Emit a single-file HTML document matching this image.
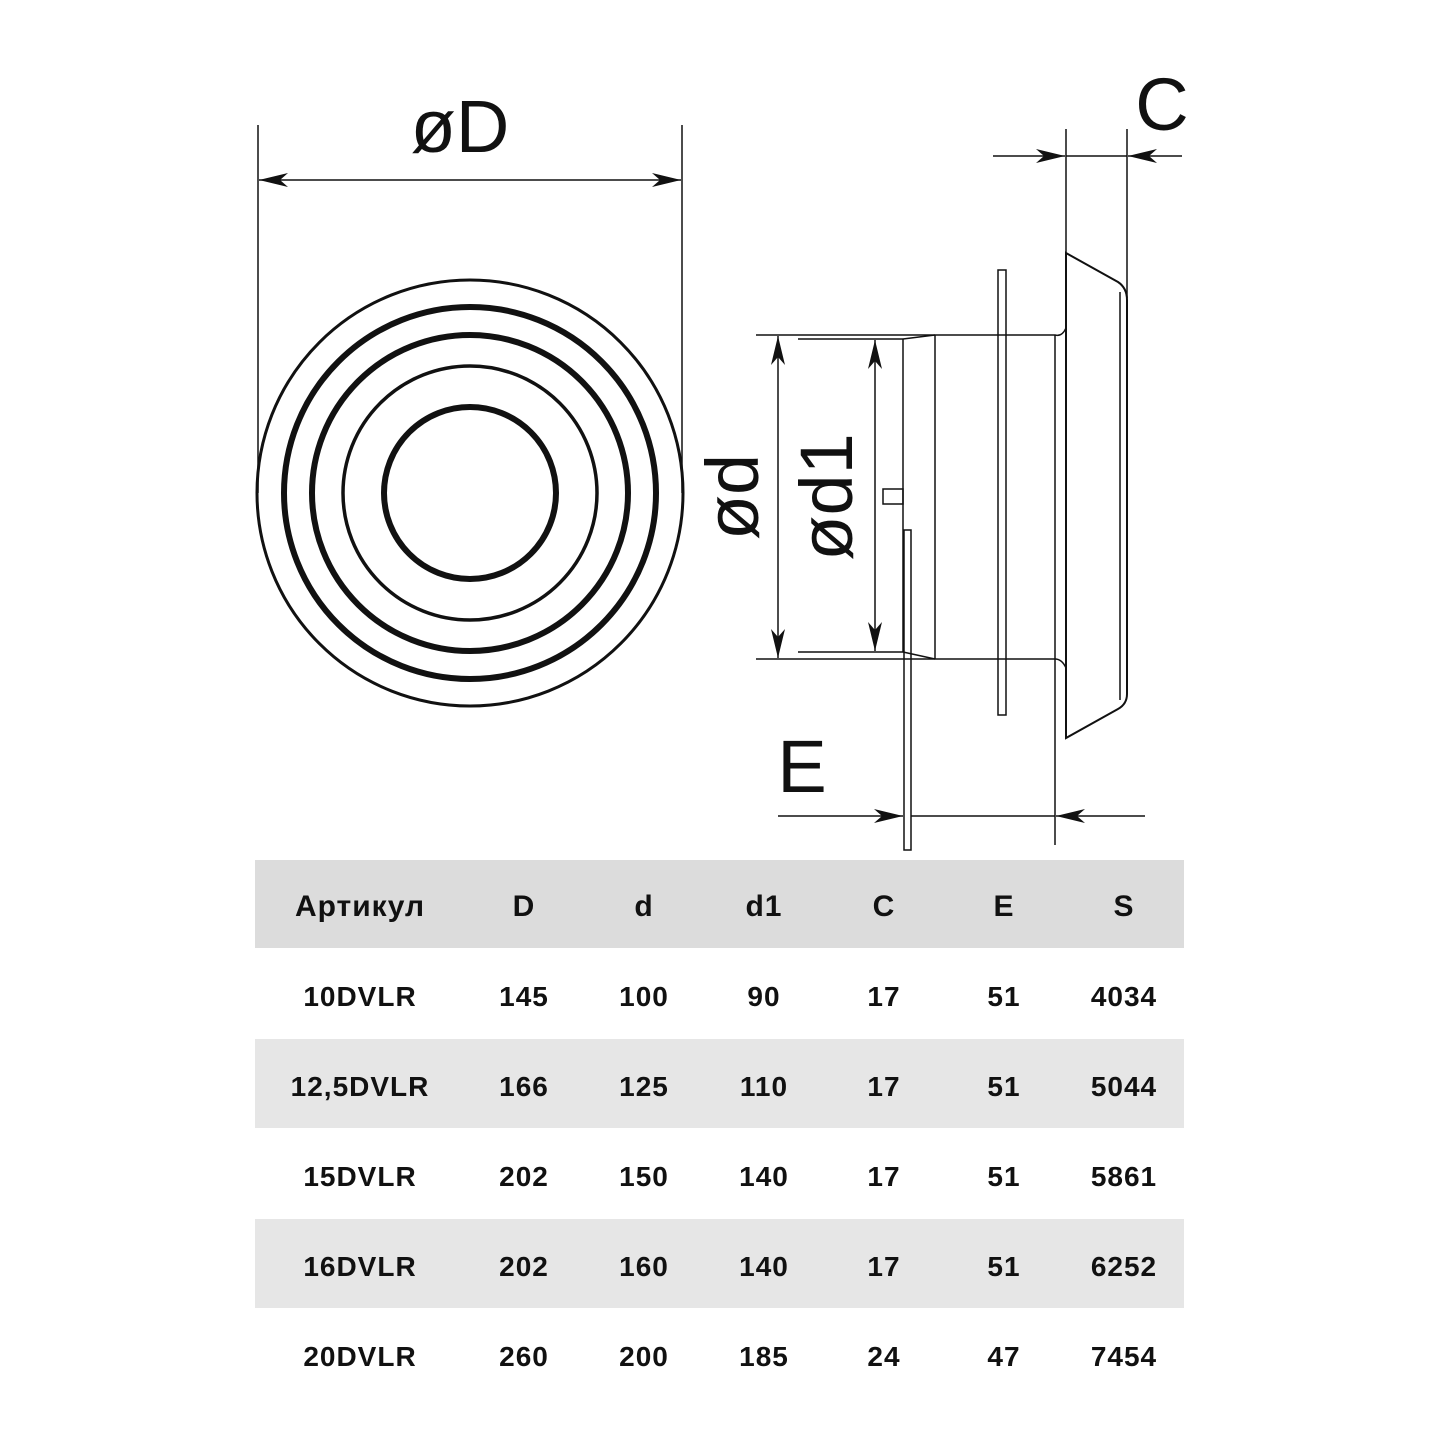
<!DOCTYPE html>
<html><head><meta charset="utf-8"><style>
body{margin:0;background:#fff;width:1440px;height:1440px;overflow:hidden}
svg{position:absolute;left:0;top:0}
.t{font-family:"Liberation Sans",sans-serif;font-weight:bold;font-size:30px;fill:#111;text-anchor:middle;letter-spacing:1px}
.l{font-family:"Liberation Sans",sans-serif;font-size:74px;fill:#111;text-anchor:middle}
</style></head><body>
<svg width="1440" height="1440" viewBox="0 0 1440 1440">
<defs>
<marker id="a" markerWidth="30" markerHeight="14" refX="29" refY="7" orient="auto" markerUnits="userSpaceOnUse">
<path d="M0,0 L29,7 L0,14 L8,7 Z" fill="#111"/></marker>
</defs>
<g stroke="#111" fill="none">
<line x1="258" y1="125" x2="258" y2="493" stroke-width="1.5"/>
<line x1="682" y1="125" x2="682" y2="493" stroke-width="1.5"/>
<line x1="470" y1="180" x2="259" y2="180" stroke-width="1.5" marker-end="url(#a)"/>
<line x1="470" y1="180" x2="681" y2="180" stroke-width="1.5" marker-end="url(#a)"/>
<circle cx="470" cy="493" r="213" stroke-width="3"/>
<circle cx="470" cy="493" r="186" stroke-width="6"/>
<circle cx="470" cy="493" r="158" stroke-width="6"/>
<circle cx="470" cy="493" r="127" stroke-width="3.5"/>
<circle cx="470" cy="493" r="86" stroke-width="6"/>
<g stroke-width="1.5">
<line x1="1066" y1="129" x2="1066" y2="255"/>
<line x1="1127" y1="129" x2="1127" y2="298"/>
<line x1="993" y1="156" x2="1065" y2="156" marker-end="url(#a)"/>
<line x1="1182" y1="156" x2="1128" y2="156" marker-end="url(#a)"/>
<line x1="1066" y1="156" x2="1127" y2="156"/>
<path d="M1066,253 L1118,282 Q1127,288 1127,300 L1127,694 Q1127,704 1118,709 L1066,738 Z" stroke-width="2"/>
<line x1="1120" y1="292" x2="1120" y2="700"/>
<rect x="998" y="270" width="8" height="445"/>
<path d="M935,335 L1055,335 Q1062,337 1066,328 M935,659 L1055,659 Q1062,659 1066,668"/>
<line x1="935" y1="335" x2="935" y2="659"/>
<line x1="1055" y1="335" x2="1055" y2="845"/>
<path d="M903,339 L935,335 M903,652 L935,659"/>
<line x1="903" y1="339" x2="903" y2="652"/>
<rect x="883" y="489" width="20" height="15"/>
<rect x="904" y="530" width="7" height="320"/>
<line x1="756" y1="335" x2="935" y2="335"/>
<line x1="756" y1="659" x2="935" y2="659"/>
<line x1="798" y1="339" x2="903" y2="339"/>
<line x1="798" y1="652" x2="903" y2="652"/>
<line x1="778" y1="497" x2="778" y2="336" marker-end="url(#a)"/>
<line x1="778" y1="497" x2="778" y2="658" marker-end="url(#a)"/>
<line x1="875" y1="497" x2="875" y2="340" marker-end="url(#a)"/>
<line x1="875" y1="497" x2="875" y2="651" marker-end="url(#a)"/>
<line x1="778" y1="816" x2="903" y2="816" marker-end="url(#a)"/>
<line x1="911" y1="816" x2="1055" y2="816"/>
<line x1="1145" y1="816" x2="1056" y2="816" marker-end="url(#a)"/>
</g>
</g>
<text class="l" x="460" y="152">øD</text>
<text class="l" x="1162" y="130">C</text>
<text class="l" x="802" y="792">E</text>
<text class="l" transform="translate(758,497) rotate(-90)">ød</text>
<text class="l" transform="translate(852,497) rotate(-90)">ød1</text>
<rect x="255" y="860" width="929" height="88" fill="#dcdcdc"/>
<rect x="255" y="1039" width="929" height="89" fill="#e6e6e6"/>
<rect x="255" y="1219" width="929" height="89" fill="#e6e6e6"/>
<g class="t">
<text x="360" y="916">Артикул</text><text x="524" y="916">D</text><text x="644" y="916">d</text><text x="764" y="916">d1</text><text x="884" y="916">C</text><text x="1004" y="916">E</text><text x="1124" y="916">S</text>
</g>
<g class="t" style="font-size:28px">
<text x="360" y="1006">10DVLR</text><text x="524" y="1006">145</text><text x="644" y="1006">100</text><text x="764" y="1006">90</text><text x="884" y="1006">17</text><text x="1004" y="1006">51</text><text x="1124" y="1006">4034</text>
<text x="360" y="1096">12,5DVLR</text><text x="524" y="1096">166</text><text x="644" y="1096">125</text><text x="764" y="1096">110</text><text x="884" y="1096">17</text><text x="1004" y="1096">51</text><text x="1124" y="1096">5044</text>
<text x="360" y="1186">15DVLR</text><text x="524" y="1186">202</text><text x="644" y="1186">150</text><text x="764" y="1186">140</text><text x="884" y="1186">17</text><text x="1004" y="1186">51</text><text x="1124" y="1186">5861</text>
<text x="360" y="1276">16DVLR</text><text x="524" y="1276">202</text><text x="644" y="1276">160</text><text x="764" y="1276">140</text><text x="884" y="1276">17</text><text x="1004" y="1276">51</text><text x="1124" y="1276">6252</text>
<text x="360" y="1366">20DVLR</text><text x="524" y="1366">260</text><text x="644" y="1366">200</text><text x="764" y="1366">185</text><text x="884" y="1366">24</text><text x="1004" y="1366">47</text><text x="1124" y="1366">7454</text>
</g>
</svg>
</body></html>
